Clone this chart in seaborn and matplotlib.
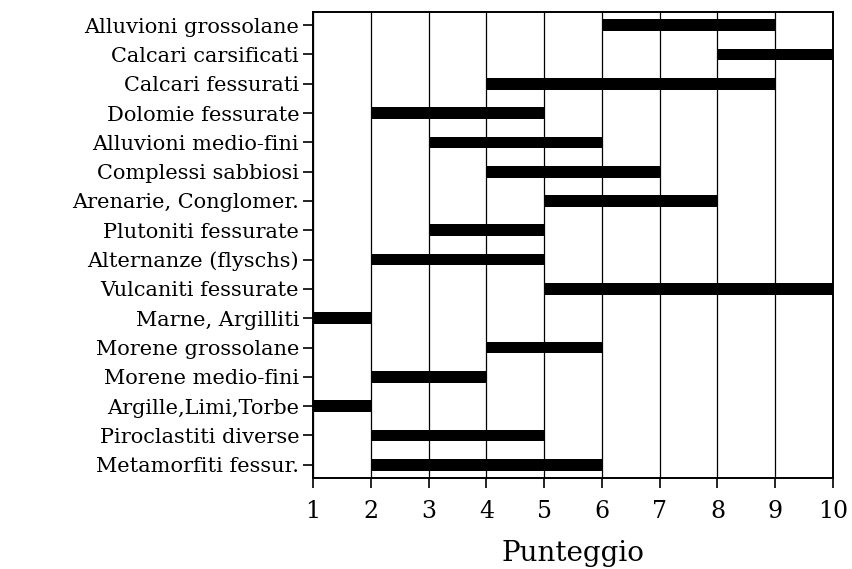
import matplotlib
matplotlib.use('Agg')
import matplotlib.pyplot as plt
import pandas as pd
import seaborn as sns

# Rock types and their score range (Punteggio)
categories = ['Alluvioni grossolane', 'Calcari carsificati', 'Calcari fessurati',
              'Dolomie fessurate', 'Alluvioni medio-fini', 'Complessi sabbiosi',
              'Arenarie, Conglomer.', 'Plutoniti fessurate', 'Alternanze (flyschs)',
              'Vulcaniti fessurate', 'Marne, Argilliti', 'Morene grossolane',
              'Morene medio-fini', 'Argille,Limi,Torbe', 'Piroclastiti diverse',
              'Metamorfiti fessur.']
start = [6, 8, 4, 2, 3, 4, 5, 3, 2, 5, 1, 4, 2, 1, 2, 2]
end = [9, 10, 9, 5, 6, 7, 8, 5, 5, 10, 2, 6, 4, 2, 5, 6]
xticks = [1, 2, 3, 4, 5, 6, 7, 8, 9, 10]

df = pd.DataFrame({'cat': categories, 'start': start, 'end': end})
df['span'] = df['end'] - df['start']

sns.set_style('white')
plt.rcParams['font.family'] = ['DejaVu Serif']
plt.rcParams['text.color'] = 'black'
plt.rcParams['axes.labelcolor'] = 'black'
plt.rcParams['xtick.color'] = 'black'
plt.rcParams['ytick.color'] = 'black'

fig = plt.figure(figsize=(8.53, 5.69), dpi=100)
ax = fig.add_axes([0.367, 0.16, 0.6096, 0.819])

sns.barplot(data=df, x='span', y='cat', left=df['start'].to_numpy(),
            color='black', saturation=1, width=0.4, errorbar=None, ax=ax,
            linewidth=0, zorder=3)

for v in xticks:
    ax.axvline(v, color='black', lw=0.9, zorder=1)

ax.set_xlim(1, 10)
ax.set_ylim(15.45, -0.45)
ax.set_xticks(xticks)
ax.set_xlabel('Punteggio', fontsize=20, labelpad=12)
ax.set_ylabel('')
ax.tick_params(axis='both', direction='out', length=7, width=1.2,
               bottom=True, left=True)
ax.tick_params(axis='x', labelsize=17, pad=9)
ax.tick_params(axis='y', labelsize=15, pad=3)
for s in ax.spines.values():
    s.set_color('black')
    s.set_linewidth(1.4)

fig.savefig('out.png', dpi=100)
